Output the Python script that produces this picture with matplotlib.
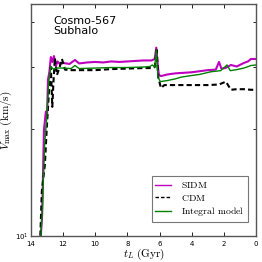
import numpy as np
import matplotlib
matplotlib.use('Agg')
import matplotlib.pyplot as plt
from matplotlib.ticker import NullFormatter, FixedLocator

plt.rcParams['mathtext.fontset'] = 'cm'

# lookback time (Gyr) and Vmax (km/s)
t_sidm = [13.45, 13.30, 13.19, 13.07, 13.00, 12.94, 12.85, 12.76, 12.66, 12.57,
          12.45, 12.35, 12.20, 12.00, 11.60, 11.26, 11.00, 10.50, 10.00, 9.50,
          9.00, 8.50, 8.00, 7.50, 7.00, 6.50, 6.30, 6.20, 6.10, 6.04, 5.90,
          5.50, 5.00, 4.50, 4.00, 3.50, 3.00, 2.50, 2.30, 2.15, 1.90, 1.56,
          1.20, 0.75, 0.50, 0.31, 0.00]
v_sidm = [9.0, 11.5, 19.9, 22.4, 21.5, 27.5, 29.0, 31.9, 30.9, 32.1,
          30.0, 31.0, 30.5, 30.7, 30.5, 31.3, 30.6, 30.8, 30.9, 30.8,
          31.0, 30.9, 31.0, 31.1, 31.2, 31.2, 31.5, 33.9, 30.0, 28.4, 28.2,
          28.5, 28.7, 28.8, 28.9, 29.1, 29.3, 29.4, 30.9, 29.6, 29.7, 30.3,
          30.0, 30.7, 31.0, 31.5, 31.5]

t_cdm = [13.45, 13.32, 13.13, 13.02, 12.86, 12.76, 12.67, 12.60, 12.51, 12.38,
         12.20, 12.07, 11.88, 11.50, 11.00, 10.00, 9.00, 8.00, 7.00, 6.50,
         6.30, 6.18, 6.08, 5.91, 5.70, 5.00, 4.00, 3.00, 2.30, 1.87, 1.56,
         1.20, 0.75, 0.30, 0.00]
v_cdm = [9.0, 13.4, 15.9, 19.9, 26.3, 29.9, 23.1, 27.0, 31.7, 28.4,
         30.0, 31.5, 29.4, 29.3, 29.3, 29.3, 29.5, 29.6, 29.7, 29.7,
         29.9, 33.4, 28.0, 26.1, 26.6, 26.6, 26.6, 26.6, 26.7, 27.2, 25.8,
         25.9, 25.9, 25.8, 25.8]

t_int = [13.45, 13.30, 13.15, 13.00, 12.90, 12.76, 12.60, 12.40, 12.00, 11.50,
         11.26, 11.00, 10.00, 9.00, 8.00, 7.00, 6.60, 6.45, 6.30, 6.20, 6.10,
         5.95, 5.50, 5.00, 4.67, 4.00, 3.50, 2.80, 2.20, 1.80, 1.60, 1.20,
         0.75, 0.30, 0.00]
v_int = [9.0, 11.5, 18.0, 22.0, 27.0, 30.0, 29.5, 29.7, 29.7, 29.6,
         30.2, 29.6, 29.7, 29.8, 29.8, 29.9, 30.0, 30.3, 29.9, 33.4, 28.0,
         27.2, 27.4, 27.7, 28.0, 28.3, 28.5, 29.0, 29.2, 30.3, 29.2, 29.4,
         29.7, 30.2, 30.3]

fig = plt.figure(figsize=(2.62, 2.62), dpi=100)
ax = fig.add_axes([0.118, 0.099, 0.859, 0.886])

ax.plot(t_sidm, v_sidm, color='m', lw=1.5, label=r'$\mathrm{SIDM}$')
ax.plot(t_cdm, v_cdm, color='k', lw=1.5, ls='--', dashes=(2.5, 1.5),
        label=r'$\mathrm{CDM}$')
ax.plot(t_int, v_int, color='g', lw=1.0, label=r'$\mathrm{Integral\ model}$')

ax.set_yscale('log')
ax.set_ylim(10, 45)
ax.set_xlim(14, 0)
ax.yaxis.set_minor_locator(FixedLocator([20, 30, 40]))
ax.yaxis.set_minor_formatter(NullFormatter())
ax.set_xticks([14, 12, 10, 8, 6, 4, 2, 0])

ax.tick_params(which='both', direction='in', top=True, right=True,
               labelsize=5, width=0.6)
ax.tick_params(axis='x', pad=3.5)
ax.tick_params(axis='y', pad=1.5)
ax.tick_params(which='major', length=3)
ax.tick_params(which='minor', length=2)
for s in ax.spines.values():
    s.set_linewidth(1.0)
    s.set_color('#555555')

ax.set_xlabel(r'$t_L\ (\mathrm{Gyr})$', fontsize=8, labelpad=0)
ax.set_ylabel(r'$V_{\rm max}\ (\mathrm{km/s})$', fontsize=8)
ax.yaxis.set_label_coords(-0.075, 0.5)

ax.text(0.10, 0.95, 'Cosmo-567\nSubhalo', transform=ax.transAxes,
        fontsize=8, va='top', ha='left', linespacing=1.0)

leg = ax.legend(loc='lower right', fontsize=7, fancybox=False,
                handlelength=1.6, borderpad=0.4, labelspacing=0.25,
                handletextpad=1.0, bbox_to_anchor=(0.985, 0.04))
leg.get_frame().set_edgecolor('#555555')
leg.get_frame().set_linewidth(0.8)
for h in leg.get_lines():
    h.set_linewidth(1.0)

fig.savefig('out.png', dpi=100)
